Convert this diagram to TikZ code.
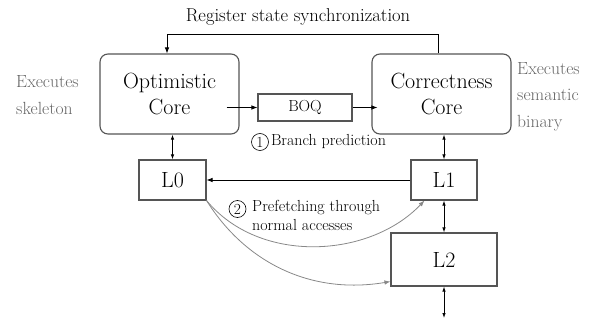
\documentclass[tikz,border=0pt]{standalone}
\usepackage{fontspec}
\usetikzlibrary{arrows.meta,calc}
\definecolor{boxgray}{HTML}{555555}
\definecolor{txtgray}{HTML}{666666}
\definecolor{curvegray}{HTML}{888888}
\tikzset{
  core/.style={draw=boxgray,line width=1.1pt,rounded corners=8pt,minimum width=139pt,minimum height=80pt,align=center,inner sep=0pt,font=\fontsize{22}{26}\selectfont},
  cache/.style={draw=boxgray,line width=1.1pt,align=center,inner sep=0pt,font=\fontsize{22}{24}\selectfont},
  side/.style={text=txtgray,align=left,inner sep=0pt,font=\fontsize{17.6}{26.3}\selectfont},
  small/.style={inner sep=0pt,align=left,font=\fontsize{16}{18.5}\selectfont},
  num/.style={circle,draw,line width=0.6pt,inner sep=0pt,minimum size=17pt,font=\fontsize{15.4}{18}\selectfont},
  arr/.style={line width=0.8pt,-{Latex[length=6pt,width=4.5pt]}},
  darr/.style={line width=0.8pt,{Latex[length=5pt,width=3.5pt]}-{Latex[length=5pt,width=3.5pt]}},
  garr/.style={draw=curvegray,line width=0.8pt,-{Latex[length=6pt,width=4.5pt]}}
}
\begin{document}
\begin{tikzpicture}[x=1pt,y=-1pt]
\useasboundingbox (0,0) rectangle (593,320);
\node[core] (opt) at (169.5,94) {Optimistic\\Core};
\node[core] (corr) at (441.5,94) {Correctness\\Core};
\node[draw=boxgray,line width=1.1pt,minimum width=94pt,minimum height=27pt,inner sep=0pt,font=\fontsize{16}{18}\selectfont] (boq) at (305,107.5) {BOQ};
\node[cache,minimum width=67pt,minimum height=40pt] (l0) at (172.5,180) {L0};
\node[cache,minimum width=66pt,minimum height=40pt] (l1) at (444,180) {L1};
\node[cache,minimum width=106pt,minimum height=53pt] (l2) at (444,259.5) {L2};
\node[inner sep=0pt,font=\fontsize{18.6}{20}\selectfont] (reg) at (298,17) {Register state synchronization};
\node[side,anchor=west] (exl) at (16,95) {Executes\\skeleton};
\node[side,anchor=west] (exr) at (517,96.5) {Executes\\semantic\\binary};
\node[num] (c1) at (260,142) {1};
\node[small,anchor=west] (bp) at ([xshift=2pt]c1.east) {Branch prediction};
\node[num] (c2) at (237.5,209) {2};
\node[small,anchor=north west] (pf) at (252,200.5) {Prefetching through\\normal accesses};
\coordinate (mem) at (444,318);
% connectors
\draw[arr] ([xshift=-3.5pt]corr.north) -- ++(0,-19) -| ([xshift=-2.5pt]opt.north);
\draw[arr] ($(opt.east|-boq.west)+(-13,0)$) -- (boq.west);
\draw[arr] (boq.east) -- ($(corr.west|-boq.east)+(6,0)$);
\draw[darr] (l0.north|-opt.south) -- (l0.north);
\draw[darr] (l1.north|-corr.south) -- (l1.north);
\draw[arr] (l1.west) -- (l0.east);
\draw[darr] (l1.south) -- (l2.north);
\draw[darr] (l2.south) -- (mem);
\draw[garr] (l0.south east) .. controls (260,265) and (370,258) .. ($(l1.south west)+(14,0)$);
\draw[garr] (l0.south east) .. controls (245,262) and (310,295) .. ($(l2.south west)+(0,-5)$);
\end{tikzpicture}
\end{document}
